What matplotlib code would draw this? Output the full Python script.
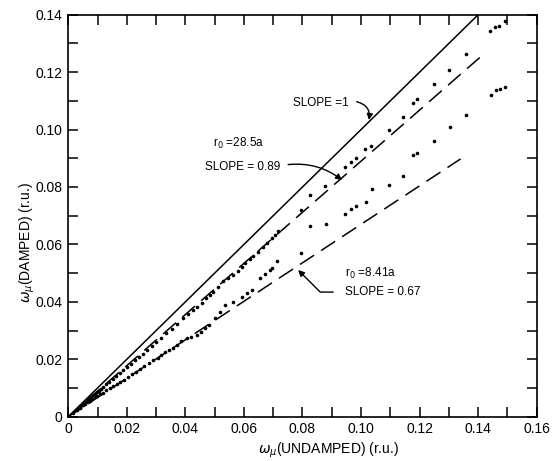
import matplotlib
matplotlib.use("Agg")
import matplotlib.pyplot as plt
from matplotlib.ticker import MultipleLocator

plt.rcParams['font.family'] = ['Liberation Sans', 'DejaVu Sans']
plt.rcParams['mathtext.fontset'] = 'dejavusans'

# ---- data ----
upper_x = [0.0015, 0.0025, 0.0033, 0.0040, 0.0047, 0.0053, 0.0058, 0.0063, 0.0068, 0.0073,
           0.0078, 0.0084, 0.0090, 0.0097, 0.0104, 0.0112, 0.0120, 0.0130, 0.0140, 0.0152,
           0.0164, 0.0176, 0.0188, 0.0200, 0.0214, 0.0228, 0.0242, 0.0256, 0.0270, 0.0285,
           0.0300, 0.0318, 0.0335, 0.0353, 0.0372, 0.0393, 0.0410, 0.0425, 0.0440, 0.0456,
           0.0470, 0.0484, 0.0495, 0.0510, 0.0530, 0.0545, 0.0564, 0.0578, 0.0592, 0.0605,
           0.0620, 0.0632, 0.0648, 0.0666, 0.0680, 0.0695, 0.0705, 0.0717,
           0.0796, 0.0826, 0.0877, 0.0944, 0.0965, 0.0983, 0.1015, 0.1033, 0.1096, 0.1142,
           0.1178, 0.1190, 0.1250, 0.1301, 0.1358, 0.1440, 0.1458, 0.1471, 0.1492]
upper_y = [0.0014, 0.0023, 0.0030, 0.0036, 0.0042, 0.0047, 0.0052, 0.0056, 0.0060, 0.0065,
           0.0069, 0.0074, 0.0079, 0.0085, 0.0091, 0.0098, 0.0104, 0.0113, 0.0121, 0.0131,
           0.0142, 0.0152, 0.0162, 0.0172, 0.0184, 0.0196, 0.0208, 0.0220, 0.0233, 0.0246,
           0.0259, 0.0274, 0.0290, 0.0306, 0.0323, 0.0342, 0.0357, 0.0370, 0.0383, 0.0396,
           0.0412, 0.0424, 0.0435, 0.0450, 0.0474, 0.0482, 0.0494, 0.0508, 0.0522, 0.0537,
           0.0548, 0.0558, 0.0574, 0.0592, 0.0605, 0.0622, 0.0632, 0.0646,
           0.0720, 0.0771, 0.0803, 0.0871, 0.0887, 0.0900, 0.0932, 0.0944, 0.0999, 0.1045,
           0.1094, 0.1106, 0.1159, 0.1208, 0.1264, 0.1343, 0.1358, 0.1362, 0.1379]

lower_x = [0.0030, 0.0040, 0.0050, 0.0058, 0.0066, 0.0074, 0.0082, 0.0090, 0.0098, 0.0108,
           0.0118, 0.0130, 0.0142, 0.0154, 0.0166, 0.0178, 0.0190, 0.0204, 0.0218, 0.0232,
           0.0246, 0.0260, 0.0275, 0.0290, 0.0305, 0.0318, 0.0330, 0.0345, 0.0359, 0.0372,
           0.0385, 0.0404, 0.0420, 0.0439, 0.0452, 0.0467, 0.0480, 0.0501, 0.0518, 0.0535,
           0.0564, 0.0592, 0.0610, 0.0626, 0.0655, 0.0672, 0.0689, 0.0696, 0.0714,
           0.0795, 0.0827, 0.0881, 0.0944, 0.0966, 0.0983, 0.1016, 0.1038, 0.1096, 0.1143,
           0.1178, 0.1192, 0.1250, 0.1305, 0.1359, 0.1443, 0.1460, 0.1475, 0.1492]
lower_y = [0.0025, 0.0032, 0.0039, 0.0045, 0.0050, 0.0055, 0.0061, 0.0067, 0.0072, 0.0078,
           0.0084, 0.0092, 0.0099, 0.0106, 0.0114, 0.0121, 0.0129, 0.0138, 0.0147, 0.0157,
           0.0166, 0.0175, 0.0186, 0.0196, 0.0206, 0.0215, 0.0224, 0.0232, 0.0240, 0.0251,
           0.0262, 0.0273, 0.0279, 0.0285, 0.0296, 0.0308, 0.0320, 0.0343, 0.0365, 0.0389,
           0.0401, 0.0418, 0.0430, 0.0441, 0.0482, 0.0497, 0.0511, 0.0518, 0.0541,
           0.0571, 0.0665, 0.0671, 0.0705, 0.0722, 0.0734, 0.0749, 0.0793, 0.0806, 0.0838,
           0.0912, 0.0920, 0.0960, 0.1008, 0.1051, 0.1121, 0.1138, 0.1140, 0.1149]

ref_slopes = [1.0, 0.89, 0.67]
ref_x_end = [0.14, 0.142, 0.134]

x_ticks = [0, 0.02, 0.04, 0.06, 0.08, 0.10, 0.12, 0.14, 0.16]
x_tick_labels = ['0', '0.02', '0.04', '0.06', '0.08', '0.10', '0.12', '0.14', '0.16']
y_ticks = [0, 0.02, 0.04, 0.06, 0.08, 0.10, 0.12, 0.14]
y_tick_labels = ['0', '0.02', '0.04', '0.06', '0.08', '0.10', '0.12', '0.14']

# ---- figure ----
fig = plt.figure(figsize=(5.52, 4.61), dpi=100)
ax = fig.add_axes([0.1237, 0.0961, 0.8486, 0.872])

ax.set_xlim(0, 0.16)
ax.set_ylim(0, 0.14)

# reference lines
ax.plot([0, ref_x_end[0]], [0, ref_slopes[0] * ref_x_end[0]], color='black', lw=1.1)
for s, xe in zip(ref_slopes[1:], ref_x_end[1:]):
    ax.plot([0, xe], [0, s * xe], color='black', lw=1.1, dashes=(11, 5.5))

ax.plot(upper_x, upper_y, 'o', color='black', ms=2.6, mew=0)
ax.plot(lower_x, lower_y, 'o', color='black', ms=2.6, mew=0)

ax.set_xticks(x_ticks)
ax.set_xticklabels(x_tick_labels)
ax.set_yticks(y_ticks)
ax.set_yticklabels(y_tick_labels)
ax.xaxis.set_minor_locator(MultipleLocator(0.01))
ax.yaxis.set_minor_locator(MultipleLocator(0.01))
ax.tick_params(which='both', direction='in', top=True, right=True, length=7, width=1.1,
               labelsize=10, pad=4)
for sp in ax.spines.values():
    sp.set_linewidth(1.2)

fig.text(0.596, 0.024, r'$\omega_\mu$(UNDAMPED) (r.u.)', ha='center', va='center', fontsize=10)
fig.text(0.049, 0.475, r'$\omega_\mu$(DAMPED) (r.u.)', ha='center', va='center',
         rotation=90, fontsize=10)

afs = 8.5
ax.text(0.0768, 0.1094, 'SLOPE =1', fontsize=afs, va='center', ha='left')
ax.annotate('', xy=(0.1027, 0.1033), xytext=(0.0985, 0.1097),
            arrowprops=dict(arrowstyle='-|>', color='black', lw=1.0, mutation_scale=9,
                            shrinkA=0, shrinkB=0, connectionstyle='arc3,rad=-0.45'))

ax.text(0.0495, 0.0953, r'r$_0$ =28.5a', fontsize=afs, va='center', ha='left')
ax.text(0.0467, 0.0870, 'SLOPE = 0.89', fontsize=afs, va='center', ha='left')
ax.annotate('', xy=(0.0935, 0.0824), xytext=(0.0751, 0.0878),
            arrowprops=dict(arrowstyle='-|>', color='black', lw=1.0, mutation_scale=9,
                            shrinkA=0, shrinkB=0, connectionstyle='arc3,rad=-0.2'))

ax.text(0.0945, 0.0500, r'r$_0$ =8.41a', fontsize=afs, va='center', ha='left')
ax.text(0.0945, 0.0434, 'SLOPE = 0.67', fontsize=afs, va='center', ha='left')
ax.annotate('', xy=(0.0785, 0.0511), xytext=(0.0905, 0.0434),
            arrowprops=dict(arrowstyle='-|>', color='black', lw=1.0, mutation_scale=9,
                            shrinkA=0, shrinkB=0,
                            connectionstyle='angle,angleA=0,angleB=-45,rad=0'))

fig.savefig('out.png', dpi=100)
